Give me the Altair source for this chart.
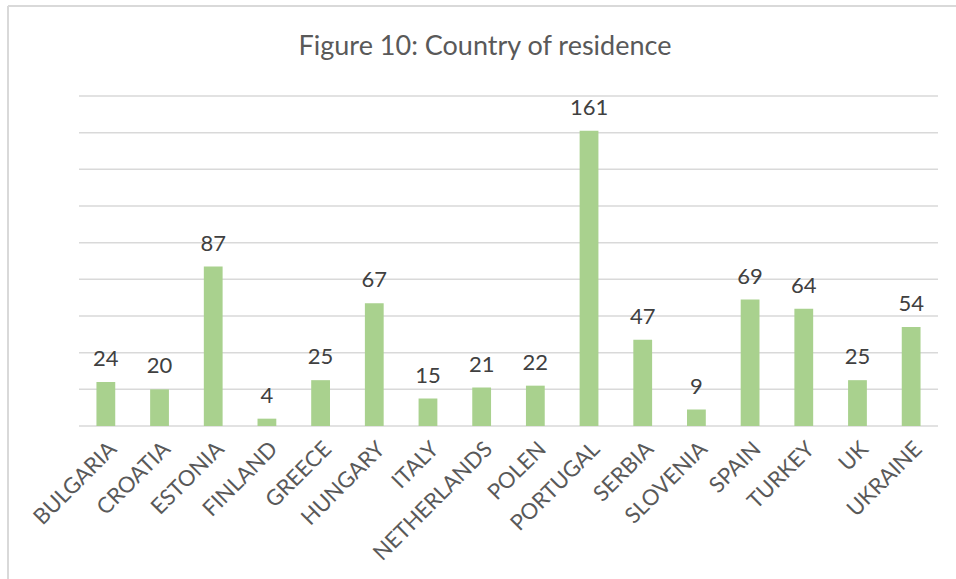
import altair as alt
import pandas as pd

countries = ["BULGARIA", "CROATIA", "ESTONIA", "FINLAND", "GREECE", "HUNGARY", "ITALY",
             "NETHERLANDS", "POLEN", "PORTUGAL", "SERBIA", "SLOVENIA", "SPAIN", "TURKEY",
             "UK", "UKRAINE"]
counts = [24, 20, 87, 4, 25, 67, 15, 21, 22, 161, 47, 9, 69, 64, 25, 54]
grid_values = [0, 20, 40, 60, 80, 100, 120, 140, 160, 180]
title_text = ["Figure 10: Country of residence"]

df = pd.DataFrame({"country": countries, "count": counts})
grid_df = pd.DataFrame({"v": grid_values})
title_df = pd.DataFrame({"t": title_text})

FONT = "Lato"
yscale = alt.Scale(domain=[0, 180], nice=False, zero=True)
x = alt.X("country:N", sort=countries,
          scale=alt.Scale(paddingInner=0.65, paddingOuter=0.325),
          axis=alt.Axis(title=None, labelAngle=-45, labelAlign="right", labelBaseline="top",
                        labelFont=FONT, labelFontSize=22, labelColor="#595959",
                        ticks=False, domain=False, labelPadding=12, grid=False))
y = alt.Y("count:Q", scale=yscale, axis=None)

grid = alt.Chart(grid_df).mark_rule(color="#D9D9D9", strokeWidth=1.5).encode(
    y=alt.Y("v:Q", scale=yscale, axis=None), x=alt.value(0), x2=alt.value(859))
bars = alt.Chart(df).mark_bar(color="#A9D18E").encode(x=x, y=y)
labels = alt.Chart(df).mark_text(dy=-16, baseline="alphabetic", font=FONT, fontSize=22,
                                 color="#404040").encode(
    x=alt.X("country:N", sort=countries), y=alt.Y("count:Q", scale=yscale, axis=None), text="count:Q")

title = alt.Chart(title_df).mark_text(font=FONT, fontSize=27, color="#595959", baseline="middle",
                                      align="center").encode(
    x=alt.value(406), y=alt.value(-49), text="t:N")

border_v = alt.Chart(df).mark_rule(color="#D9D9D9", strokeWidth=2).encode(
    x=alt.value(-71), y=alt.value(-90), y2=alt.value(700))
border_h = alt.Chart(df).mark_rule(color="#D9D9D9", strokeWidth=2).encode(
    x=alt.value(-71), x2=alt.value(1000), y=alt.value(-90))

chart = alt.layer(grid, bars, labels, title, border_v, border_h).properties(
    width=859, height=330,
    autosize=alt.AutoSizeParams(type="none"),
    padding={"left": 79, "top": 96, "right": 18, "bottom": 153},
).configure(background="white").configure_view(stroke=None)

chart.save("out.html", embed_options={"renderer": "svg", "actions": False})
